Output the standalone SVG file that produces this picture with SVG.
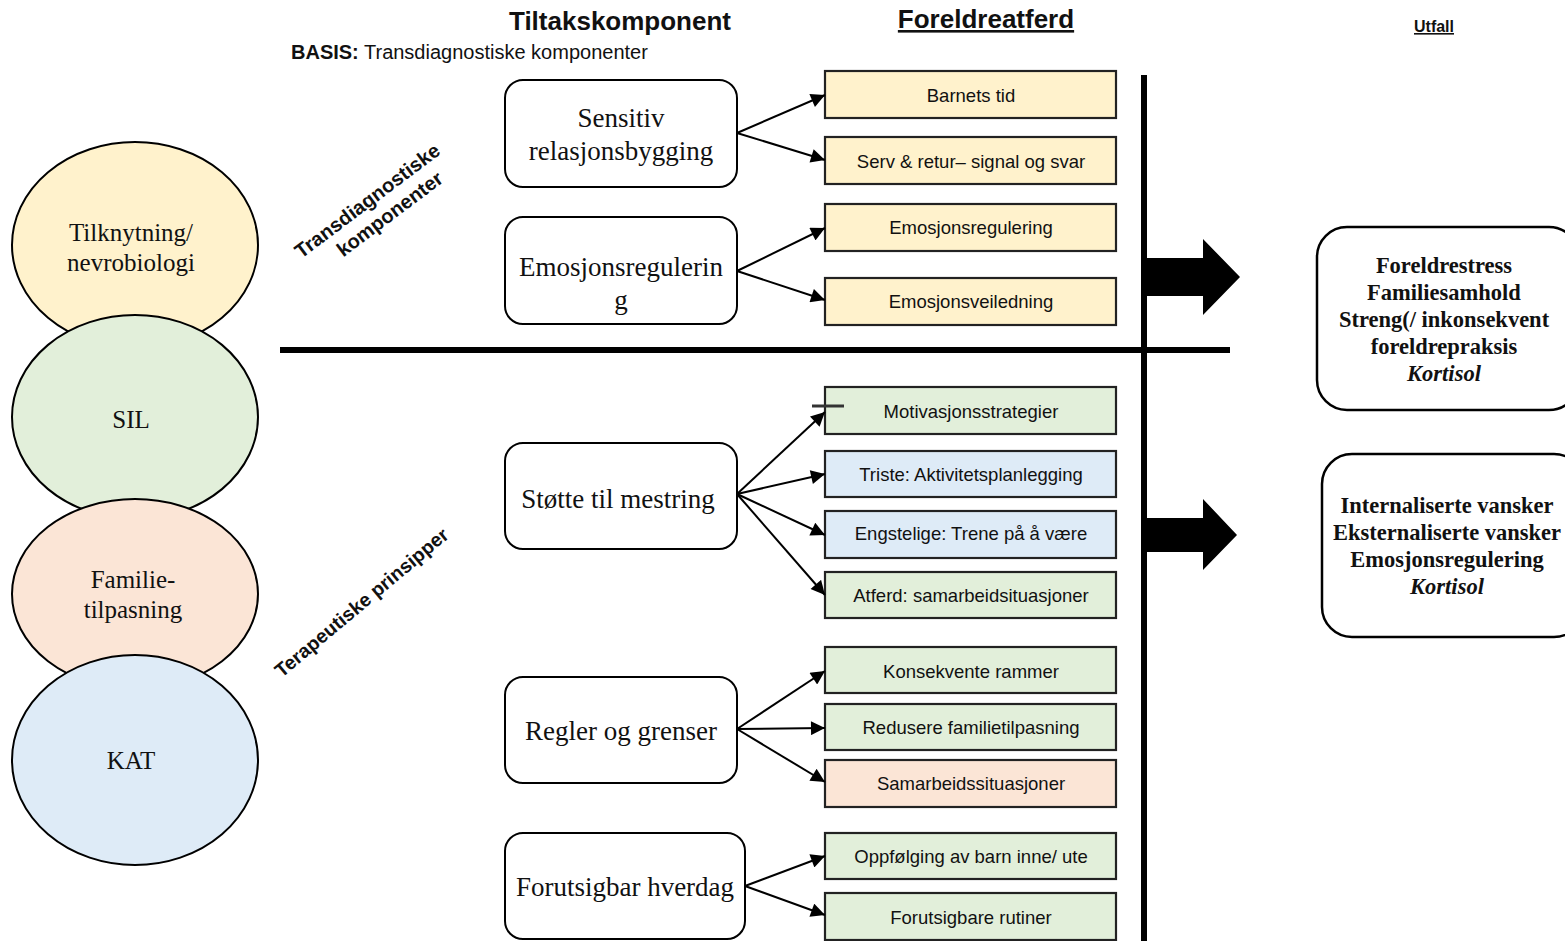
<svg xmlns="http://www.w3.org/2000/svg" width="1565" height="941" viewBox="0 0 1565 941">
<defs>
<style>
.serif{font-family:"Liberation Serif","Times New Roman",serif;fill:#111;}
.sans{font-family:"Liberation Sans",Arial,sans-serif;fill:#111;}
.circ{stroke:#000;stroke-width:2;}
.rbox{fill:#fff;stroke:#000;stroke-width:2;}
.sbox{stroke:#222;stroke-width:2.2;}
.conn{stroke:#000;stroke-width:2;fill:none;marker-end:url(#ah);}
.lbl{font-size:18.5px;text-anchor:middle;}
.mid{font-size:27px;text-anchor:middle;}
.out{font-size:22.5px;font-weight:bold;text-anchor:middle;}
</style>
<marker id="ah" viewBox="0 0 10 10" refX="10" refY="5" markerWidth="7.5" markerHeight="7" markerUnits="strokeWidth" orient="auto">
<path d="M0,0 L10,5 L0,10 z" fill="#000"/>
</marker>
</defs>
<rect width="1565" height="941" fill="#fff"/>

<g id="headers">
<text class="sans" x="620" y="30" font-size="26" font-weight="bold" text-anchor="middle">Tiltakskomponent</text>
<text class="sans" x="986" y="28" font-size="26" font-weight="bold" text-anchor="middle" text-decoration="underline">Foreldreatferd</text>
<text class="sans" x="1434" y="32" font-size="16" font-weight="bold" text-anchor="middle" text-decoration="underline">Utfall</text>
<text class="sans" x="291" y="59" font-size="20"><tspan font-weight="bold">BASIS:</tspan> Transdiagnostiske komponenter</text>
</g>

<g id="circles">
<g id="c-tilknytning"><ellipse class="circ" cx="135" cy="245" rx="123" ry="103" fill="#fff2cc"/>
<text class="serif" x="131" y="241" font-size="25" text-anchor="middle">Tilknytning/</text>
<text class="serif" x="131" y="271" font-size="25" text-anchor="middle">nevrobiologi</text></g>
<g id="c-sil"><ellipse class="circ" cx="135" cy="417" rx="123" ry="102" fill="#e2efda"/>
<text class="serif" x="131" y="428" font-size="25" text-anchor="middle">SIL</text></g>
<g id="c-familie"><ellipse class="circ" cx="135" cy="594" rx="123" ry="95" fill="#fbe5d6"/>
<text class="serif" x="133" y="588" font-size="25" text-anchor="middle">Familie-</text>
<text class="serif" x="133" y="618" font-size="25" text-anchor="middle">tilpasning</text></g>
<g id="c-kat"><ellipse class="circ" cx="135" cy="760" rx="123" ry="105" fill="#deebf7"/>
<text class="serif" x="131" y="769" font-size="25" text-anchor="middle">KAT</text></g>
</g>

<g id="rotated-labels">
<g transform="translate(375,211) rotate(-37)">
<text class="sans" x="0" y="-6" font-size="20" font-weight="bold" text-anchor="middle">Transdiagnostiske</text>
<text class="sans" x="10" y="18" font-size="20" font-weight="bold" text-anchor="middle">komponenter</text>
</g>
<g transform="translate(362,603) rotate(-40)">
<text class="sans" x="0" y="6" font-size="19.5" font-weight="bold" text-anchor="middle">Terapeutiske prinsipper</text>
</g>
</g>

<g id="dividers">
<line x1="1144" y1="75" x2="1144" y2="941" stroke="#000" stroke-width="6"/>
<line x1="280" y1="350" x2="1230" y2="350" stroke="#000" stroke-width="6"/>
</g>

<g id="components">
<g id="m-sensitiv"><rect class="rbox" x="505" y="80" width="232" height="107" rx="18"/>
<text class="serif mid" x="621" y="127">Sensitiv</text><text class="serif mid" x="621" y="160">relasjonsbygging</text></g>
<g id="m-emosjon"><rect class="rbox" x="505" y="217" width="232" height="107" rx="18"/>
<text class="serif mid" x="621" y="276">Emosjonsregulerin</text><text class="serif mid" x="621" y="309">g</text></g>
<g id="m-stotte"><rect class="rbox" x="505" y="443" width="232" height="106" rx="18"/>
<text class="serif mid" x="618" y="508">Støtte til mestring</text></g>
<g id="m-regler"><rect class="rbox" x="505" y="677" width="232" height="106" rx="18"/>
<text class="serif mid" x="621" y="740">Regler og grenser</text></g>
<g id="m-forutsigbar"><rect class="rbox" x="505" y="833" width="240" height="106" rx="18"/>
<text class="serif mid" x="625" y="896">Forutsigbar hverdag</text></g>
</g>

<g id="behaviours">
<g id="b1"><rect class="sbox" x="825" y="71" width="291" height="47" fill="#fff2cc"/><text class="sans lbl" x="971" y="102">Barnets tid</text></g>
<g id="b2"><rect class="sbox" x="825" y="137" width="291" height="47" fill="#fff2cc"/><text class="sans lbl" x="971" y="168">Serv &amp; retur– signal og svar</text></g>
<g id="b3"><rect class="sbox" x="825" y="204" width="291" height="47" fill="#fff2cc"/><text class="sans lbl" x="971" y="234">Emosjonsregulering</text></g>
<g id="b4"><rect class="sbox" x="825" y="278" width="291" height="47" fill="#fff2cc"/><text class="sans lbl" x="971" y="308">Emosjonsveiledning</text></g>
<g id="b5"><rect class="sbox" x="825" y="387" width="291" height="47" fill="#e2efda"/><text class="sans lbl" x="971" y="418">Motivasjonsstrategier</text></g>
<g id="b6"><rect class="sbox" x="825" y="451" width="291" height="46" fill="#deebf7"/><text class="sans lbl" x="971" y="481">Triste: Aktivitetsplanlegging</text></g>
<g id="b7"><rect class="sbox" x="825" y="511" width="291" height="47" fill="#deebf7"/><text class="sans lbl" x="971" y="540">Engstelige: Trene på å være</text></g>
<g id="b8"><rect class="sbox" x="825" y="572" width="291" height="46" fill="#e2efda"/><text class="sans lbl" x="971" y="602">Atferd: samarbeidsituasjoner</text></g>
<g id="b9"><rect class="sbox" x="825" y="647" width="291" height="46" fill="#e2efda"/><text class="sans lbl" x="971" y="678">Konsekvente rammer</text></g>
<g id="b10"><rect class="sbox" x="825" y="704" width="291" height="46" fill="#e2efda"/><text class="sans lbl" x="971" y="734">Redusere familietilpasning</text></g>
<g id="b11"><rect class="sbox" x="825" y="760" width="291" height="47" fill="#fbe5d6"/><text class="sans lbl" x="971" y="790">Samarbeidssituasjoner</text></g>
<g id="b12"><rect class="sbox" x="825" y="833" width="291" height="46" fill="#e2efda"/><text class="sans lbl" x="971" y="863">Oppfølging av barn inne/ ute</text></g>
<g id="b13"><rect class="sbox" x="825" y="893" width="291" height="47" fill="#e2efda"/><text class="sans lbl" x="971" y="924">Forutsigbare rutiner</text></g>
<line x1="812" y1="406" x2="844" y2="406" stroke="#333" stroke-width="3"/>
</g>

<g id="connectors">
<line class="conn" x1="737" y1="133" x2="825" y2="95"/>
<line class="conn" x1="737" y1="133" x2="825" y2="160"/>
<line class="conn" x1="737" y1="271" x2="825" y2="228"/>
<line class="conn" x1="737" y1="271" x2="825" y2="300"/>
<line class="conn" x1="737" y1="494" x2="825" y2="412"/>
<line class="conn" x1="737" y1="494" x2="825" y2="474"/>
<line class="conn" x1="737" y1="494" x2="825" y2="535"/>
<line class="conn" x1="737" y1="494" x2="825" y2="595"/>
<line class="conn" x1="737" y1="729" x2="825" y2="671"/>
<line class="conn" x1="737" y1="729" x2="825" y2="728"/>
<line class="conn" x1="737" y1="729" x2="825" y2="782"/>
<line class="conn" x1="745" y1="886" x2="825" y2="856"/>
<line class="conn" x1="745" y1="886" x2="825" y2="915"/>
<path d="M1147,258 L1203,258 L1203,239 L1240,277 L1203,315 L1203,296 L1147,296 Z" fill="#000"/>
<path d="M1147,518 L1203,518 L1203,499 L1237,535 L1203,570 L1203,552 L1147,552 Z" fill="#000"/>
</g>

<g id="outcomes">
<g id="o1"><rect x="1317" y="227" width="262" height="183" rx="30" fill="#fff" stroke="#000" stroke-width="2.5"/>
<text class="serif out" x="1444" y="273">Foreldrestress</text>
<text class="serif out" x="1444" y="300">Familiesamhold</text>
<text class="serif out" x="1444" y="327">Streng(/ inkonsekvent</text>
<text class="serif out" x="1444" y="354">foreldrepraksis</text>
<text class="serif out" x="1444" y="381" font-style="italic">Kortisol</text></g>
<g id="o2"><rect x="1322" y="454" width="262" height="183" rx="30" fill="#fff" stroke="#000" stroke-width="2.5"/>
<text class="serif out" x="1447" y="513">Internaliserte vansker</text>
<text class="serif out" x="1447" y="540">Eksternaliserte vansker</text>
<text class="serif out" x="1447" y="567">Emosjonsregulering</text>
<text class="serif out" x="1447" y="594" font-style="italic">Kortisol</text></g>
</g>
</svg>
